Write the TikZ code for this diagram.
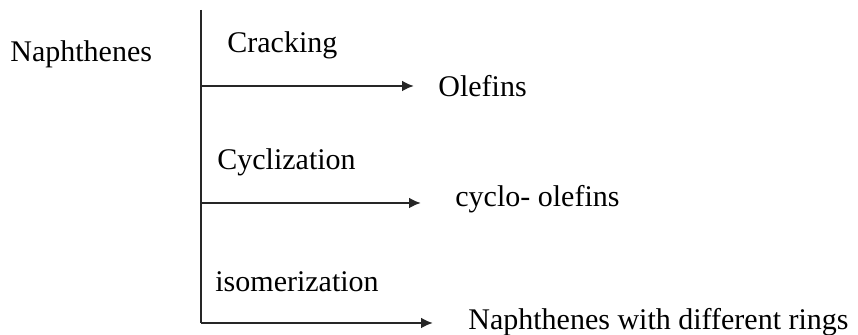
\documentclass[tikz,border=0pt]{standalone}
\usepackage{fontspec}
\setmainfont{Liberation Serif}
\usetikzlibrary{arrows.meta}
\tikzset{
    word/.style={anchor=base west, inner sep=0pt, font=\fontsize{15}{18}\selectfont},
    stem/.style={line width=1.3pt, black!85},
    branch/.style={stem, -{Latex[length=6pt, width=5.5pt]}},
}
\begin{document}
\begin{tikzpicture}[x=0.5pt, y=-0.5pt]
      \useasboundingbox (0,0) rectangle (858,335);

      \node[word] (naphthenes) at (10,62) {Naphthenes};

      \path
          (201,10) coordinate (stem-top)
          (201,86) coordinate (crack-from)
          (201,203) coordinate (cycl-from)
          (201,323) coordinate (isom-from)
          (414,86) coordinate (crack-to)
          (421,203) coordinate (cycl-to)
          (433,323) coordinate (isom-to);

      \node[word] (cracking) at (227,53) {Cracking};
      \node[word] (olefins) at (438,97) {Olefins};
      \node[word] (cyclization) at (217,170) {Cyclization};
      \node[word] (cyclo-olefins) at (455,207) {cyclo- olefins};
      \node[word] (isomerization) at (215,292) {isomerization};
      \node[word] (rings) at (468,330) {Naphthenes with different rings};

      \draw[stem] (stem-top) -- (isom-from);
      \draw[branch] (crack-from) -- (crack-to);
      \draw[branch] (cycl-from) -- (cycl-to);
      \draw[branch] (isom-from) -- (isom-to);
\end{tikzpicture}
\end{document}
